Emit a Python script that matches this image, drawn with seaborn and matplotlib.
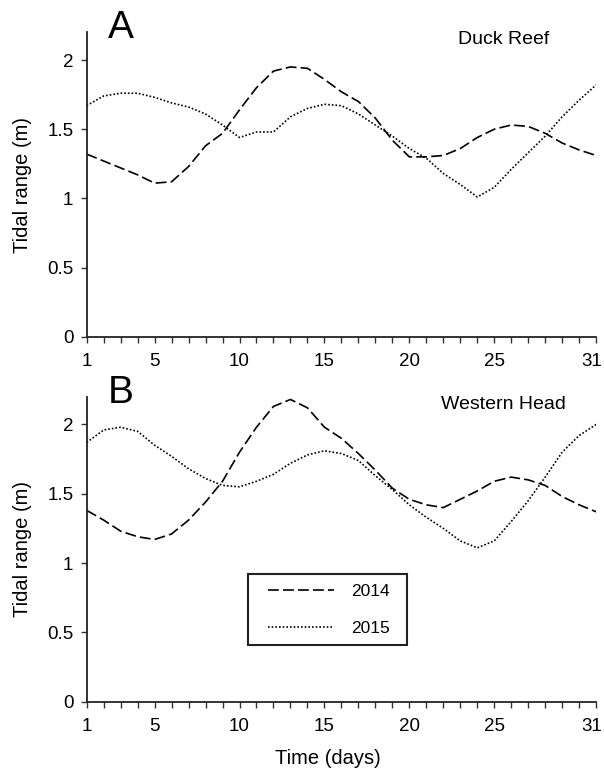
import pandas as pd
import seaborn as sns
import matplotlib.pyplot as plt
import matplotlib.transforms as mtransforms
from matplotlib.patches import Rectangle
import numpy as np

# Days of the month
days = list(range(1, 32))

# Duck Reef tidal range (m)
duck_2014 = [1.32, 1.27, 1.22, 1.17, 1.11, 1.12, 1.23, 1.38, 1.47, 1.64,
             1.80, 1.92, 1.95, 1.94, 1.86, 1.77, 1.70, 1.58, 1.42, 1.30,
             1.30, 1.31, 1.36, 1.44, 1.50, 1.53, 1.52, 1.47, 1.40, 1.35, 1.31]
duck_2015 = [1.67, 1.74, 1.76, 1.76, 1.73, 1.69, 1.66, 1.61, 1.53, 1.44,
             1.48, 1.48, 1.59, 1.65, 1.68, 1.67, 1.61, 1.53, 1.45, 1.36,
             1.29, 1.18, 1.10, 1.01, 1.08, 1.21, 1.33, 1.45, 1.59, 1.71, 1.82]

# Western Head tidal range (m)
west_2014 = [1.38, 1.31, 1.23, 1.19, 1.17, 1.21, 1.31, 1.44, 1.59, 1.80,
             1.98, 2.13, 2.18, 2.12, 1.98, 1.90, 1.79, 1.67, 1.54, 1.46,
             1.42, 1.40, 1.46, 1.52, 1.59, 1.62, 1.60, 1.56, 1.48, 1.42, 1.37]
west_2015 = [1.87, 1.96, 1.98, 1.95, 1.85, 1.77, 1.68, 1.61, 1.56, 1.55,
             1.59, 1.64, 1.72, 1.78, 1.81, 1.79, 1.74, 1.63, 1.53, 1.42,
             1.33, 1.25, 1.16, 1.11, 1.16, 1.30, 1.45, 1.62, 1.80, 1.92, 2.00]

years = ['2014', '2015']
sites = ['Duck Reef', 'Western Head']
panel_letters = ['A', 'B']
x_ticks = [1, 5, 10, 15, 20, 25, 31]
y_ticks = [0, 0.5, 1, 1.5, 2]
y_ticklabels = ['0', '0.5', '1', '1.5', '2']


def make_frame(a, b):
    return pd.DataFrame({
        'day': days * 2,
        'range': a + b,
        'year': [years[0]] * len(days) + [years[1]] * len(days),
    })


frames = [make_frame(duck_2014, duck_2015), make_frame(west_2014, west_2015)]

sns.set_style('ticks')
plt.rcParams['font.family'] = ['Liberation Sans', 'DejaVu Sans']
plt.rcParams['text.color'] = 'black'
plt.rcParams['axes.labelcolor'] = 'black'
plt.rcParams['xtick.labelcolor'] = 'black'
plt.rcParams['ytick.labelcolor'] = 'black'

fig = plt.figure(figsize=(6.04, 7.70), dpi=100)
ax_a = fig.add_axes([0.1435, 0.5627, 0.8435, 0.3953])
ax_b = fig.add_axes([0.1435, 0.0887, 0.8435, 0.3961])

dash_styles = {'2014': (6.5, 2.5), '2015': (1, 1.2)}
shift_left = mtransforms.ScaledTranslation(-4 / 100, 0, fig.dpi_scale_trans)

for i, (ax, df) in enumerate(zip([ax_a, ax_b], frames)):
    sns.lineplot(data=df, x='day', y='range', style='year', dashes=dash_styles,
                 color='black', linewidth=1.2, ax=ax, legend=(i == 1))
    ax.set_xlim(1, 31)
    ax.set_ylim(0, 2.2)
    ax.set_xticks(x_ticks)
    ax.set_xticks(days, minor=True)
    ax.set_yticks(y_ticks)
    ax.set_yticklabels(y_ticklabels)
    ax.tick_params(axis='both', which='both', direction='out', length=4.5,
                   width=1, color='#333333', labelsize=13.5, pad=5,
                   labelcolor='black')
    ax.tick_params(axis='x', which='both', pad=7)
    # keep the last day label inside the figure
    last = ax.get_xticklabels()[-1]
    last.set_transform(last.get_transform() + shift_left)
    sns.despine(ax=ax)
    for s in ['left', 'bottom']:
        ax.spines[s].set_linewidth(1.3)
        ax.spines[s].set_color('#222222')
    ax.set_ylabel('Tidal range (m)', fontsize=14.5, labelpad=11)
    ax.set_xlabel('')
    ax.text(0.042, 1.013, panel_letters[i], transform=ax.transAxes,
            fontsize=28, ha='left', va='center')
    ax.text(0.818, 0.975, sites[i], transform=ax.transAxes,
            fontsize=14, ha='center', va='center')

ax_b.set_xlabel('Time (days)', fontsize=14.5)
ax_b.xaxis.set_label_coords(0.474, -0.155)

# legend without its own frame, boxed by a rectangle
leg = ax_b.legend(loc='upper left', bbox_to_anchor=(0.356, 0.385), frameon=False,
                  fontsize=12.5, handlelength=3.8, handletextpad=1.0,
                  labelspacing=1.25, borderpad=0, borderaxespad=0)
for line in leg.get_lines():
    line.set_linewidth(1.2)
ax_b.add_patch(Rectangle((0.3167, 0.187), 0.3122, 0.2315, transform=ax_b.transAxes,
                         fill=False, edgecolor='#222222', linewidth=1.5,
                         clip_on=False, zorder=5))

fig.savefig('out.png', dpi=100)
